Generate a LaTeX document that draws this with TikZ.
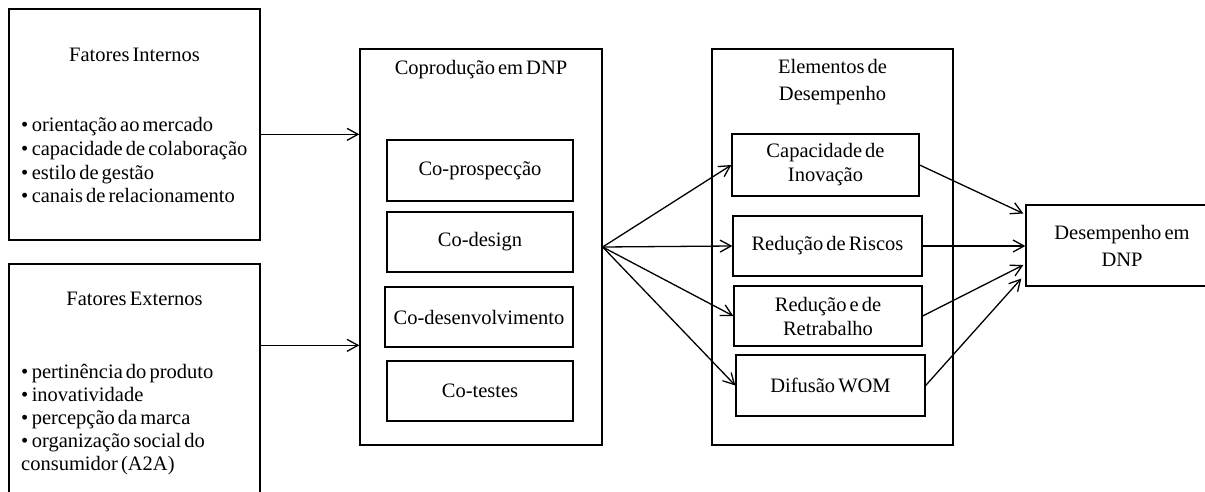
\documentclass[tikz,border=0pt]{standalone}
\usepackage{fontspec}
\setmainfont{Liberation Serif}[WordSpace=0.6]
\usetikzlibrary{arrows.meta,calc}
\begin{document}
\begin{tikzpicture}[x=1pt,y=-1pt,
  txt/.style={inner sep=0pt, font=\fontsize{20.5}{24}\selectfont},
  box/.style={draw, line width=1.3pt, inner sep=0pt, align=center,
    font=\fontsize{20.5}{24}\selectfont},
  arr/.style={line width=1.3pt,
    -{Straight Barb[length=11pt,width=12pt,line width=1.3pt]}}
]
\clip (0,0) rectangle (1205,492);
\fill[white] (0,0) rectangle (1205,492);

% --- input factors ---
\node[box, minimum width=251pt, minimum height=231pt] (fi) at (134.5,124.5) {};
\node[txt, anchor=base] (fititle) at (134.5,62) {Fatores Internos};
\foreach \t [count=\i from 0] in {orientação ao mercado, capacidade de colaboração,
    estilo de gestão, canais de relacionamento}
  \node[txt, anchor=base west] (fil\i) at (21,132+23.5*\i) {•\,\t};

\node[box, minimum width=251pt, minimum height=246pt] (fe) at (134.5,387) {};
\node[txt, anchor=base] (fetitle) at (134.5,305) {Fatores Externos};
\foreach \t [count=\i from 0] in {•\,pertinência do produto, •\,inovatividade,
    •\,percepção da marca, •\,organização social do, consumidor (A2A)}
  \node[txt, anchor=base west] (fel\i) at (21,378+23*\i) {\t};

% --- coproduction ---
\node[box, minimum width=242pt, minimum height=396pt] (cop) at (481,247) {};
\node[txt, anchor=base] (coptitle) at (481,75) {Coprodução em DNP};
\node[box, minimum width=186pt, minimum height=61pt] (cp) at (480,170.5) {Co-prospecção};
\node[box, minimum width=186pt, minimum height=60pt] (cd) at (480,242) {Co-design};
\node[box, minimum width=188pt, minimum height=60pt] (cdv) at (479,317) {Co-desenvolvimento};
\node[box, minimum width=186pt, minimum height=60pt] (ct) at (480,391) {Co-testes};

% --- performance elements ---
\node[box, minimum width=241pt, minimum height=396pt] (el) at (832.5,247) {};
\node[txt, anchor=base] (eltitle1) at (832.5,74) {Elementos de};
\node[txt, anchor=base] (eltitle2) at (832.5,101) {Desempenho};
\node[box, minimum width=187pt, minimum height=62pt] (cap) at (825.5,165) {Capacidade de\\Inovação};
\node[box, minimum width=189pt, minimum height=60pt] (rr) at (827.5,246) {Redução de Riscos};
\node[box, minimum width=188pt, minimum height=60pt] (ret) at (828,316) {Redução e de\\Retrabalho};
\node[box, minimum width=189pt, minimum height=61pt] (wom) at (830.5,385.5) {Difusão WOM};

% --- outcome ---
\node[box, minimum width=192pt, minimum height=81pt,
  font=\fontsize{20.5}{27}\selectfont] (des) at (1122,245.5) {Desempenho em\\DNP};

% --- connectors ---
\coordinate (fiout) at ($(fi.north east)+(0,126)$);
\coordinate (feout) at ($(fe.north east)+(0,82)$);
\draw[arr] (fiout) -- (fiout -| cop.west);
\draw[arr] (feout) -- (feout -| cop.west);

\foreach \n in {cap,rr,ret,wom}
  \draw[arr] (cop.east) -- (\n.west);

\coordinate (d1) at ($(des.west)+(-2,-32)$);
\coordinate (d3) at ($(des.west)+(-2,19.5)$);
\coordinate (d4) at ($(des.west)+(-4,33)$);
\draw[arr] (cap.east) -- (d1);
\draw[arr] (rr.east) -- (rr.east -| des.west);
\draw[arr] (ret.east) -- (d3);
\draw[arr] (wom.east) -- (d4);
\end{tikzpicture}
\end{document}
